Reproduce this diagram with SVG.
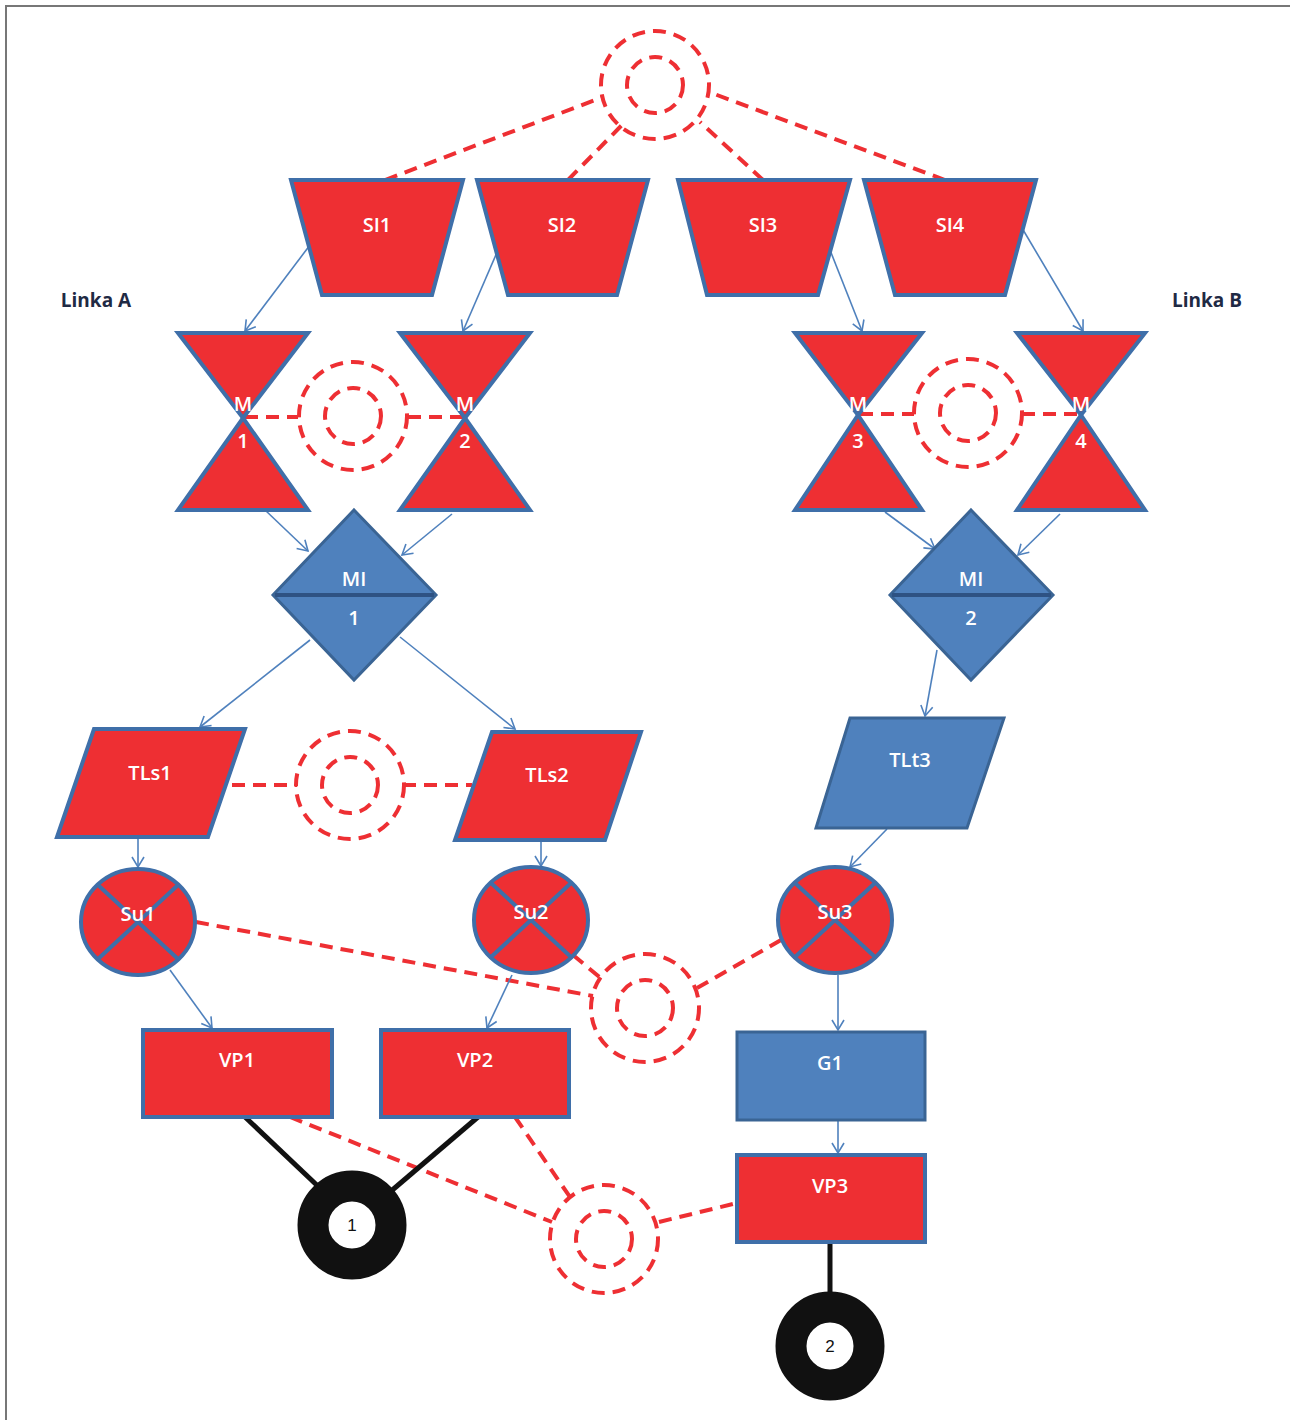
<svg xmlns="http://www.w3.org/2000/svg" width="1290" height="1420" viewBox="0 0 1290 1420">
<style>
.red{fill:#EE2F33;stroke:#3F6FA9;stroke-width:4;stroke-linejoin:miter}
.blue{fill:#4F81BD;stroke:#3A6494;stroke-width:3}
.lbl{font-family:"Open Sans","Liberation Sans",sans-serif;font-size:20px;font-weight:600;fill:#fff;text-anchor:middle}
.side{font-family:"Open Sans","Liberation Sans",sans-serif;font-size:19px;font-weight:bold;fill:#1F2A44;text-anchor:middle}
.dash{fill:none;stroke:#EE2F33;stroke-width:4;stroke-dasharray:13 8}
.arr{fill:none;stroke:#4F81BD;stroke-width:1.6;marker-end:url(#ah)}
.blk{stroke:#111;stroke-width:5;fill:none}
.donut{fill:#fff;stroke:#111;stroke-width:31}
.num{font-family:"Liberation Sans",sans-serif;font-size:17px;fill:#111;text-anchor:middle}
</style>
<defs>
<marker id="ah" markerWidth="14" markerHeight="14" refX="12" refY="7" orient="auto" markerUnits="userSpaceOnUse">
<path d="M2,1 L12,7 L2,13" fill="none" stroke="#4F81BD" stroke-width="1.6"/>
</marker>
<g id="ring">
<circle r="54" class="dash"/>
<circle r="28" class="dash"/>
</g>
</defs>
<rect x="6" y="6" width="1300" height="1430" fill="#fff" stroke="#777" stroke-width="2"/>

<g id="connectors">
<line x1="385" y1="180" x2="603" y2="97" class="dash"/>
<line x1="568" y1="180" x2="622" y2="125" class="dash"/>
<line x1="763" y1="180" x2="700" y2="122" class="dash"/>
<line x1="945" y1="180" x2="709" y2="92" class="dash"/>
<line x1="245" y1="417" x2="298" y2="417" class="dash"/>
<line x1="408" y1="417" x2="463" y2="417" class="dash"/>
<line x1="860" y1="414" x2="914" y2="414" class="dash"/>
<line x1="1022" y1="414" x2="1078" y2="414" class="dash"/>
<line x1="232" y1="785" x2="297" y2="785" class="dash"/>
<line x1="403" y1="785" x2="472" y2="785" class="dash"/>
<line x1="196" y1="922" x2="593" y2="996" class="dash"/>
<line x1="573" y1="955" x2="603" y2="980" class="dash"/>
<line x1="781" y1="940" x2="697" y2="988" class="dash"/>
<line x1="290" y1="1117" x2="552" y2="1222" class="dash"/>
<line x1="515" y1="1117" x2="572" y2="1200" class="dash"/>
<line x1="659" y1="1222" x2="737" y2="1203" class="dash"/>
<line x1="310" y1="245" x2="245" y2="331" class="arr"/>
<line x1="498" y1="250" x2="463" y2="331" class="arr"/>
<line x1="830" y1="250" x2="862" y2="331" class="arr"/>
<line x1="1022" y1="228" x2="1083" y2="331" class="arr"/>
<line x1="265" y1="510" x2="308" y2="551" class="arr"/>
<line x1="452" y1="514" x2="402" y2="555" class="arr"/>
<line x1="885" y1="512" x2="935" y2="549" class="arr"/>
<line x1="1060" y1="514" x2="1018" y2="555" class="arr"/>
<line x1="310" y1="640" x2="200" y2="727" class="arr"/>
<line x1="400" y1="637" x2="515" y2="729" class="arr"/>
<line x1="937" y1="650" x2="925" y2="716" class="arr"/>
<line x1="138" y1="838" x2="138" y2="867" class="arr"/>
<line x1="541" y1="840" x2="541" y2="866" class="arr"/>
<line x1="887" y1="829" x2="850" y2="867" class="arr"/>
<line x1="170" y1="970" x2="212" y2="1028" class="arr"/>
<line x1="512" y1="975" x2="487" y2="1028" class="arr"/>
<line x1="838" y1="975" x2="838" y2="1030" class="arr"/>
<line x1="838" y1="1120" x2="838" y2="1153" class="arr"/>
<line x1="245" y1="1117" x2="322" y2="1190" class="blk"/>
<line x1="478" y1="1117" x2="390" y2="1192" class="blk"/>
<line x1="830" y1="1242" x2="830" y2="1295" class="blk"/>
</g>

<g id="ring-top"><use href="#ring" x="655" y="85"/></g>
<g id="ring-m12"><use href="#ring" x="353" y="416"/></g>
<g id="ring-m34"><use href="#ring" x="968" y="413"/></g>
<g id="ring-tls"><use href="#ring" x="350" y="785"/></g>
<g id="ring-su"><use href="#ring" x="645" y="1008"/></g>
<g id="ring-vp"><use href="#ring" x="604" y="1239"/></g>

<g id="SI1"><polygon points="291,180 463,180 432,295 322,295" class="red"/><text x="377" y="232" class="lbl">SI1</text></g>
<g id="SI2"><polygon points="477,180 648,180 617,295 508,295" class="red"/><text x="562" y="232" class="lbl">SI2</text></g>
<g id="SI3"><polygon points="678,180 850,180 818,295 707,295" class="red"/><text x="763" y="232" class="lbl">SI3</text></g>
<g id="SI4"><polygon points="864,180 1036,180 1005,295 895,295" class="red"/><text x="950" y="232" class="lbl">SI4</text></g>

<g id="linkaA"><text x="96" y="307" class="side">Linka A</text></g>
<g id="linkaB"><text x="1207" y="307" class="side">Linka B</text></g>

<g id="M1"><polygon points="178,333 308,333 243,418" class="red"/><polygon points="243,418 308,510 178,510" class="red"/><text x="243" y="411" class="lbl">M</text><text x="243" y="448" class="lbl">1</text></g>
<g id="M2"><polygon points="400,333 530,333 465,418" class="red"/><polygon points="465,418 530,510 400,510" class="red"/><text x="465" y="411" class="lbl">M</text><text x="465" y="448" class="lbl">2</text></g>
<g id="M3"><polygon points="795,333 922,333 858,415" class="red"/><polygon points="858,415 922,510 795,510" class="red"/><text x="858" y="411" class="lbl">M</text><text x="858" y="448" class="lbl">3</text></g>
<g id="M4"><polygon points="1017,333 1145,333 1081,415" class="red"/><polygon points="1081,415 1145,510 1017,510" class="red"/><text x="1081" y="411" class="lbl">M</text><text x="1081" y="448" class="lbl">4</text></g>

<g id="Mi1"><polygon points="354,510 436,595 354,680 273,595" class="blue"/><line x1="275" y1="595" x2="434" y2="595" stroke="#2E5283" stroke-width="4"/><text x="354" y="586" class="lbl">MI</text><text x="354" y="625" class="lbl">1</text></g>
<g id="Mi2"><polygon points="971,510 1053,595 971,680 890,595" class="blue"/><line x1="892" y1="595" x2="1051" y2="595" stroke="#2E5283" stroke-width="4"/><text x="971" y="586" class="lbl">MI</text><text x="971" y="625" class="lbl">2</text></g>

<g id="TLs1"><polygon points="94,729 245,729 208,837 57,837" class="red"/><text x="150" y="780" class="lbl">TLs1</text></g>
<g id="TLs2"><polygon points="492,732 641,732 605,840 455,840" class="red"/><text x="547" y="782" class="lbl">TLs2</text></g>
<g id="TLt3"><polygon points="850,718 1004,718 967,828 816,828" class="blue"/><text x="910" y="767" class="lbl">TLt3</text></g>

<g id="Su1"><ellipse cx="138" cy="922" rx="57" ry="53" class="red"/><path d="M98,885 L178,959 M178,885 L98,959" stroke="#3F6FA9" stroke-width="4"/><text x="138" y="921" class="lbl">Su1</text></g>
<g id="Su2"><ellipse cx="531" cy="920" rx="57" ry="53" class="red"/><path d="M491,883 L571,957 M571,883 L491,957" stroke="#3F6FA9" stroke-width="4"/><text x="531" y="919" class="lbl">Su2</text></g>
<g id="Su3"><ellipse cx="835" cy="920" rx="57" ry="53" class="red"/><path d="M795,883 L875,957 M875,883 L795,957" stroke="#3F6FA9" stroke-width="4"/><text x="835" y="919" class="lbl">Su3</text></g>

<g id="VP1"><rect x="143" y="1030" width="189" height="87" class="red"/><text x="237" y="1067" class="lbl">VP1</text></g>
<g id="VP2"><rect x="381" y="1030" width="188" height="87" class="red"/><text x="475" y="1067" class="lbl">VP2</text></g>
<g id="G1"><rect x="737" y="1032" width="188" height="88" class="blue"/><text x="830" y="1070" class="lbl">G1</text></g>
<g id="VP3"><rect x="737" y="1155" width="188" height="87" class="red"/><text x="830" y="1193" class="lbl">VP3</text></g>

<g id="C1"><circle cx="352" cy="1225" r="39" class="donut"/><text x="352" y="1231" class="num">1</text></g>
<g id="C2"><circle cx="830" cy="1346" r="39" class="donut"/><text x="830" y="1352" class="num">2</text></g>
</svg>
